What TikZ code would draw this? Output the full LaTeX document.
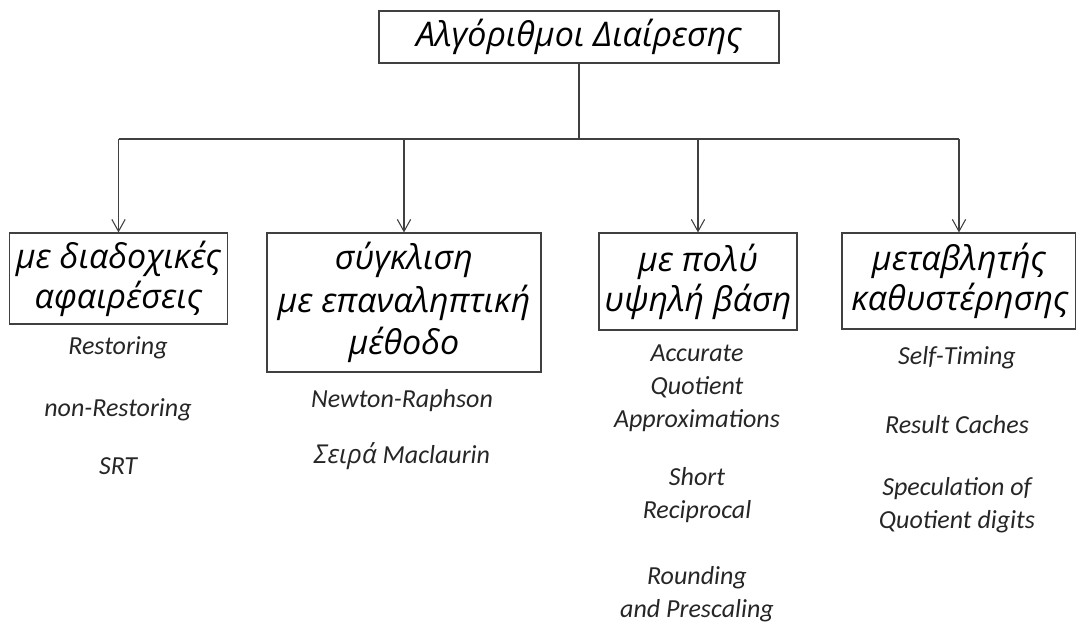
\documentclass[tikz,border=0pt]{standalone}
\usepackage{fontspec}
\setmainfont{Carlito}
\newfontfamily\grfont{Open Sans}
\usetikzlibrary{arrows.meta}

\begin{document}
\begin{tikzpicture}[
            x=0.75pt, y=-0.75pt,
            line width=0.8pt,
            every node/.style={inner sep=0pt},
            box/.style={
                draw=black!75,
                align=center,
                font=\fontsize{25.5}{30}\selectfont\grfont\itshape
            },
            item/.style={
                align=center,
                text=black!85,
                font=\fontsize{19.5}{24.75}\selectfont\itshape
            },
            arr/.style={
                draw=black!75,
                -{Straight Barb[length=9pt, width=10pt]} % open v tips
            }
        ]
        \useasboundingbox (0,0) rectangle (1076,623);
        % top box and the four kinds
        \node[box, minimum width=300pt, minimum height=39pt] (top) at (579,37) {Αλγόριθμοι Διαίρεσης};
        \node[box, minimum width=163.5pt, minimum height=68.25pt] (b1) at (118.5,278.5) {με διαδοχικές\\αφαιρέσεις};
        \node[box, minimum width=205.5pt, minimum height=104.25pt, font=\fontsize{25.5}{32}\selectfont\grfont\itshape] (b2) at (404,302.5) {σύγκλιση\\με επαναληπτική\\μέθοδο};
        \node[box, minimum width=148.5pt, minimum height=72.75pt] (b3) at (698,281.5) {με πολύ\\υψηλή βάση};
        \node[box, text width=161.5pt, inner xsep=7pt, minimum height=72pt] (b4) at (959,281) {μεταβλητής\\καθυστέρησης};
        \coordinate (split) at (575,139);
        \draw[draw=black!75] (top.south) -- (top.south |- split);
        \draw[draw=black!75] (b1.north |- split) -- (b4.north |- split);
        \foreach \b in {b1,b2,b3,b4}
            \draw[arr] (\b.north |- split) -- (\b.north);
        % methods under each kind
        \node[item] (r1) at (118,348) {Restoring};
        \node[item] (r2) at (118,410) {non-Restoring};
        \node[item] (r3) at (118,466) {SRT};
        \node[item] (n1) at (402,401) {Newton-Raphson};
        \node[item] (n2) at (402,456) {{\grfont Σειρά} Maclaurin};
        \node[item] (q1) at (697,388) {Accurate\\Quotient\\Approximations};
        \node[item] (q2) at (697,495) {Short\\Reciprocal};
        \node[item] (q3) at (697,594) {Rounding\\and Prescaling};
        \node[item] (s1) at (957,358) {Self-Timing};
        \node[item] (s2) at (957,425) {Result Caches};
        \node[item] (s3) at (957,505) {Speculation of\\Quotient digits};
    \end{tikzpicture}
\end{document}
